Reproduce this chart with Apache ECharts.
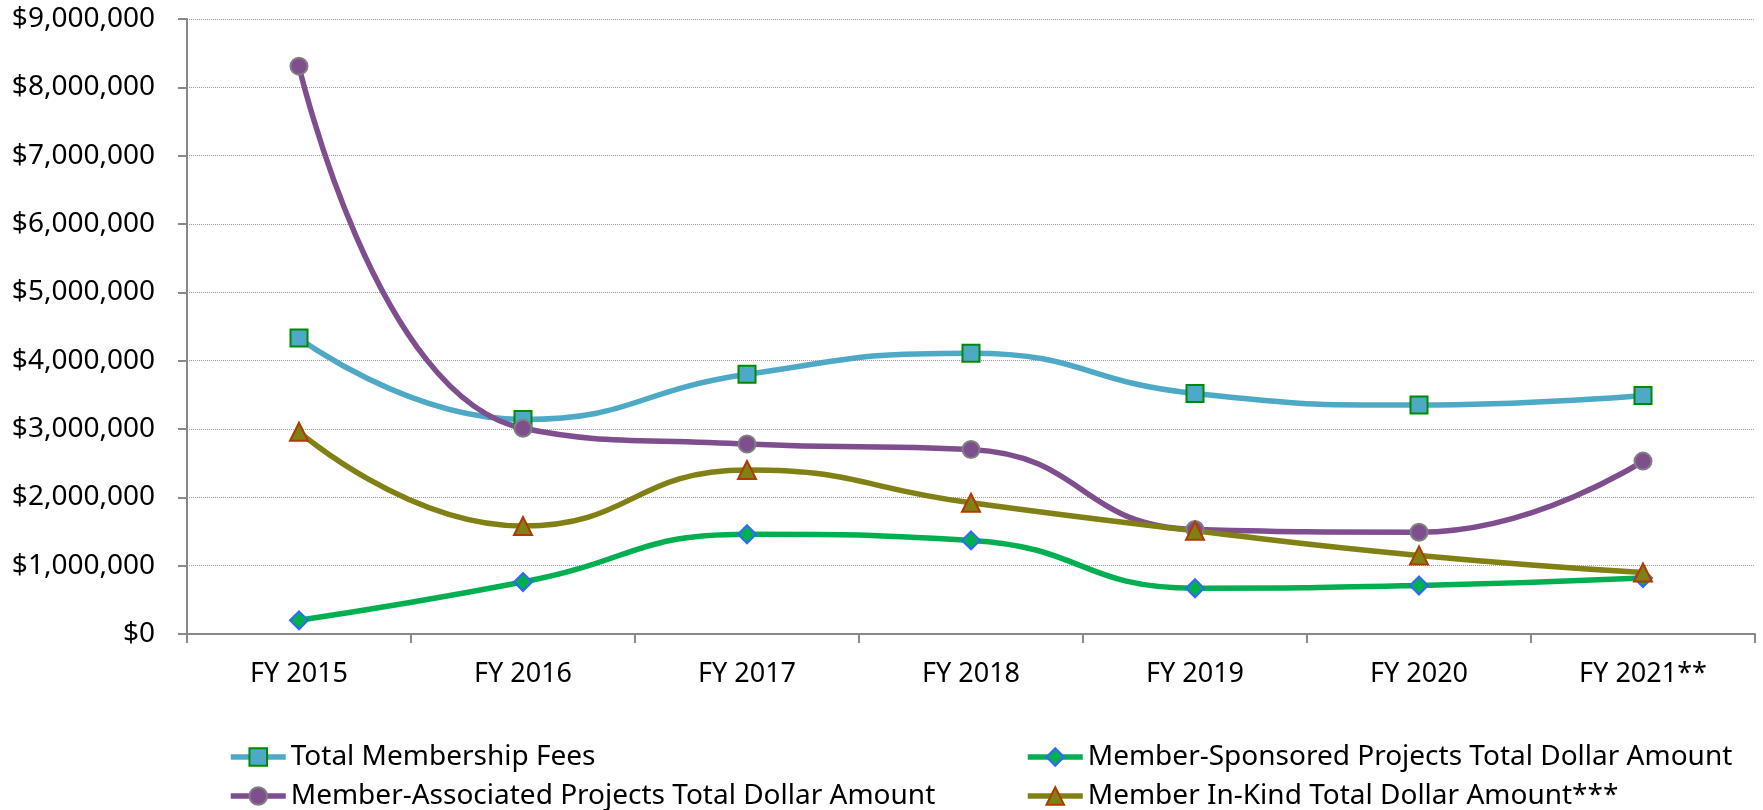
<!DOCTYPE html>
<html>
<head>
<meta charset="utf-8">
<script src="https://cdn.jsdelivr.net/npm/echarts@6/dist/echarts.min.js"></script>
<style>
  html, body { margin: 0; padding: 0; background: #fff; }
  #chart { width: 1763px; height: 810px; }
</style>
</head>
<body>
<div id="chart"></div>
<script>
const categories = ['FY 2015', 'FY 2016', 'FY 2017', 'FY 2018', 'FY 2019', 'FY 2020', 'FY 2021**'];

const membershipFees = [4330000, 3140000, 3800000, 4110000, 3520000, 3350000, 3490000];
const sponsoredProjects = [200000, 760000, 1460000, 1370000, 670000, 710000, 820000];
const associatedProjects = [8310000, 3010000, 2780000, 2700000, 1530000, 1490000, 2530000];
const inKindAmount = [2960000, 1580000, 2400000, 1920000, 1510000, 1150000, 900000];

const seriesNames = [
    'Total Membership Fees',
    'Member-Sponsored Projects Total Dollar Amount',
    'Member-Associated Projects Total Dollar Amount',
    'Member In-Kind Total Dollar Amount***'
];

const FONT = "'Noto Sans', 'Liberation Sans', sans-serif";

function money(v) {
    const s = String(Math.round(v));
    return '$' + s.replace(/\B(?=(\d{3})+(?!\d))/g, ',');
}

function lineSeries(name, data, color, symbol, size, border) {
    return {
        name: name,
        type: 'line',
        data: data,
        smooth: 0.5,
        symbol: symbol,
        symbolSize: size,
        showSymbol: true,
        lineStyle: { color: color, width: 5.5 },
        itemStyle: { color: color, borderColor: border, borderWidth: 2 },
        emphasis: { disabled: true }
    };
}

function legendAt(name, left, top) {
    return {
        left: left,
        top: top,
        padding: 0,
        itemWidth: 55,
        itemHeight: 22,
        lineStyle: { width: 5.5 },
        textStyle: { fontFamily: FONT, fontSize: 28, color: '#000' },
        data: [name]
    };
}

document.addEventListener("DOMContentLoaded", () => {
    const chart = echarts.init(document.getElementById('chart'));

    const option = {
        animation: false,
        backgroundColor: '#fff',
        grid: { left: 187, right: 8, top: 19, bottom: 176 },
        legend: [
            legendAt(seriesNames[0], 228, 743),
            legendAt(seriesNames[2], 228, 782),
            legendAt(seriesNames[1], 1025, 743),
            legendAt(seriesNames[3], 1025, 782)
        ],
        xAxis: {
            type: 'category',
            data: categories,
            boundaryGap: true,
            axisLine: { lineStyle: { color: '#888', width: 2 } },
            axisTick: { show: true, length: 9, alignWithLabel: false, lineStyle: { color: '#888', width: 2 } },
            axisLabel: { fontFamily: FONT, fontSize: 27, color: '#000', margin: 27 }
        },
        yAxis: {
            type: 'value',
            min: 0,
            max: 9000000,
            interval: 1000000,
            axisLine: { show: true, lineStyle: { color: '#888', width: 2 } },
            axisTick: { show: true, length: 9, lineStyle: { color: '#888', width: 2 } },
            splitLine: { lineStyle: { color: '#999', type: 'dotted', width: 1 } },
            axisLabel: {
                fontFamily: FONT,
                fontSize: 28,
                color: '#000',
                margin: 32,
                formatter: money
            }
        },
        series: [
            lineSeries(seriesNames[0], membershipFees, '#4ea9c6', 'rect', 17, '#008a00'),
            lineSeries(seriesNames[1], sponsoredProjects, '#00b050', 'diamond', 18, '#3366ff'),
            lineSeries(seriesNames[2], associatedProjects, '#7e4e8e', 'circle', 17, '#808080'),
            lineSeries(seriesNames[3], inKindAmount, '#808014', 'triangle', 18, '#b03a00')
        ]
    };

    chart.setOption(option);
});
</script>
</body>
</html>
